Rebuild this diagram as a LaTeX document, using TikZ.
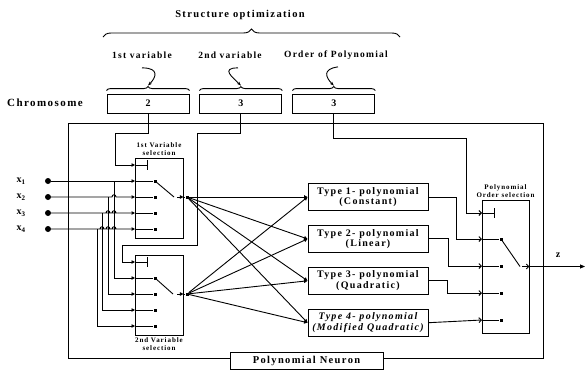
\documentclass[tikz,border=0pt]{standalone}
\usepackage{fontspec}
\setmainfont{Liberation Serif}[LetterSpace=13]
\usetikzlibrary{arrows.meta,decorations.pathreplacing,positioning}

\begin{document}
\begin{tikzpicture}[x=1pt,y=-1pt,
  wire/.style={line width=0.9pt},
  intip/.style={-{Triangle[length=3.5pt,width=3.5pt]}},
  obarb/.style={-{Straight Barb[length=2.5pt,width=5pt]}},
  gene/.style={draw,line width=0.9pt,minimum width=82pt,minimum height=19pt,inner sep=0pt,font=\bfseries\fontsize{10}{11}\selectfont},
  poly/.style={draw,line width=0.9pt,minimum width=120pt,minimum height=27pt,inner sep=0pt,align=center,font=\bfseries\fontsize{10}{10.5}\selectfont},
  selbox/.style={draw,line width=0.9pt,inner sep=0pt},
  term/.style={fill,inner sep=0pt,minimum size=3pt},
  inp/.style={circle,fill,inner sep=0pt,minimum size=6pt},
  small/.style={font=\bfseries\fontsize{7}{7.5}\selectfont,align=center,inner sep=1pt},
  lbl/.style={font=\bfseries\fontsize{9.5}{10}\selectfont}]

\useasboundingbox (0,0) rectangle (587,370);

% Titolo e graffa grande
\node[font=\bfseries\fontsize{10.5}{11}\selectfont] (titolo) at (240,15) {Structure optimization};
\draw[wire,decorate,decoration={brace,amplitude=8pt}] (103,37) -- (400,37);

% Etichette dei geni
\node[lbl] (v1) at (142,55) {1st variable};
\node[lbl] (v2) at (230,55) {2nd variable};
\node[lbl] (v3) at (336,55) {Order of Polynomial};

% Cromosoma
\node[font=\bfseries\fontsize{11}{12}\selectfont] (chr) at (45,103) {Chromosome};
\node[gene] (g1) at (148,103.5) {2};
\node[gene,right=10pt of g1] (g2) {3};
\node[gene,right=10pt of g2] (g3) {3};

% Graffe sopra i geni
\foreach \g in {1,2,3} {
    \draw[wire,decorate,decoration={brace,amplitude=4pt}]
        ([yshift=3pt]g\g.north west) -- ([yshift=3pt]g\g.north east);
    \coordinate (k\g) at ([yshift=8pt]g\g.north);
}

% Frecce curve
\draw[wire,-{Stealth[length=4pt]}] ([yshift=-6pt]v1.south) .. controls +(18,0) and +(8,-8) .. (k1);
\draw[wire,-{Stealth[length=4pt]}] ([xshift=8pt,yshift=-6pt]v2.south) .. controls +(-18,0) and +(-8,-8) .. (k2);
\draw[wire,-{Stealth[length=4pt]}] ([xshift=2pt,yshift=-4pt]v3.south) .. controls +(-16,2) and +(-8,-8) .. (k3);

% Neurone
\draw[wire] (68,123) rectangle (543,358);

% Scatole di selezione
\node[selbox,minimum width=48pt,minimum height=80pt] (sel1) at (159,198) {};
\node[selbox,minimum width=48pt,minimum height=80pt] (sel2) at (159,295) {};
\node[selbox,minimum width=47pt,minimum height=133pt] (sel3) at (505.5,266.5) {};
\node[small,above=1pt of sel1] (lsel1) {1st Variable\\selection};
\node[small,below=1pt of sel2] (lsel2) {2nd Variable\\selection};
\node[small,above=1pt of sel3] (lsel3) {Polynomial\\Order selection};

% Ingressi e contatti
\foreach \i/\y/\jx in {1/181/114,2/197/108,3/213/102,4/229/97} {
    \node[inp] (x\i) at (48,\y) {};
    \node[lbl,font=\bfseries\fontsize{10}{10}\selectfont] (lx\i) at (21,\y) {x\textsubscript{\i}};
    \coordinate (a\i) at (135,\y);
    \coordinate (j\i) at (\jx,\y);
    \node[term] (p\i) at (155,\y) {};
}
\foreach \i/\y in {1/278,2/294,3/310,4/326} {
    \coordinate (b\i) at (135,\y);
    \node[term] (q\i) at (155,\y) {};
}
\foreach \i/\y in {1/239,2/266,3/293,4/320} {
    \coordinate (c\i) at (482,\y);
    \node[term] (r\i) at (501,\y) {};
}

% Righe di ingresso (con salti agli incroci)
\draw[wire,intip] (x1) -- (a1);
\draw[wire,intip] (x2) -- (112,197) .. controls (112,194) and (116,194) .. (116,197) -- (a2);
\draw[wire,intip] (x3) foreach \h in {108,114} { -- (\h-2,213) .. controls (\h-2,210) and (\h+2,210) .. (\h+2,213) } -- (a3);
\draw[wire,intip] (x4) foreach \h in {102,108,114} { -- (\h-2,229) .. controls (\h-2,226) and (\h+2,226) .. (\h+2,229) } -- (a4);

% Diramazioni verso la seconda selezione
\foreach \i in {1,...,4} {
    \draw[wire,intip] (j\i) |- (b\i);
    \draw[wire] (a\i) -- (p\i);
    \draw[wire] (b\i) -- (q\i);
    \draw[wire] (c\i) -- (r\i);
}

% Comandi di selezione dal cromosoma
\coordinate (a0) at (135,165);
\coordinate (b0) at (135,262);
\coordinate (c0) at (482,213);
\draw[wire,intip] (g1.south) |- (115,133) |- (a0);
\draw[wire,-{Bar[width=10pt]}] (a0) -- (148,165);
\draw[wire,intip] (g2.south) |- (197,133) |- (122,245) |- (b0);
\draw[wire,-{Bar[width=10pt]}] (b0) -- (148,262);
\draw[wire,obarb] (g3.south) |- (466,138) |- (c0);
\draw[wire,-{Bar[width=10pt]}] (c0) -- (495,213);

% Leve dei selettori
\draw[wire] (p1) -- (174,197);
\draw[wire,intip] (177,197) -- (sel1.east |- p2);
\node[term] (f1) at (187,197) {};
\draw[wire] (sel1.east |- p2) -- (f1);
\draw[wire] (q1) -- (173,294);
\draw[wire,intip] (177,294) -- (sel2.east |- q2);
\node[term] (f2) at (187,294) {};
\draw[wire] (sel2.east |- q2) -- (f2);

% Polinomi
\node[poly] (t1) at (368,197) {Type 1- polynomial\\(Constant)};
\node[poly,below=14pt of t1] (t2) {Type 2- polynomial\\(Linear)};
\node[poly,below=14pt of t2] (t3) {Type 3- polynomial\\(Quadratic)};
\node[poly,below=14pt of t3,font=\bfseries\itshape\fontsize{10}{10.5}\selectfont] (t4) {Type 4- polynomial\\(Modified Quadratic)};

% Ventagli verso i polinomi
\foreach \j in {1,...,4} {
    \draw[wire,intip] (f1) -- (t\j.west);
    \draw[wire,intip] (f2) -- (t\j.west);
}

% Uscite dei polinomi
\draw[wire,obarb] (t1.east) -- ++(28,0) |- (c1);
\draw[wire,obarb] (t2.east) -- ++(20,0) |- (c2);
\draw[wire,obarb] (t3.east) -- ++(19,0) |- (c3);
\draw[wire,obarb] (t4.east) -- (c4);

% Selettore d'ordine e uscita
\coordinate (zout) at (585,266.5);
\draw[wire] (r1) -- (520,266.5);
\draw[wire,obarb] (522,266.5) -- (sel3.east);
\draw[wire,-{Triangle[length=5pt,width=4pt]}] (sel3.east) -- (zout);
\node[font=\bfseries\fontsize{10}{10}\selectfont] (zlab) at (558,255) {z};

% Etichetta del neurone
\node[draw,wire,fill=white,minimum width=153pt,minimum height=17pt,inner sep=0pt,font=\bfseries\fontsize{10.5}{11}\selectfont] (neur) at (306.5,360.5) {Polynomial Neuron};

\end{tikzpicture}
\end{document}
